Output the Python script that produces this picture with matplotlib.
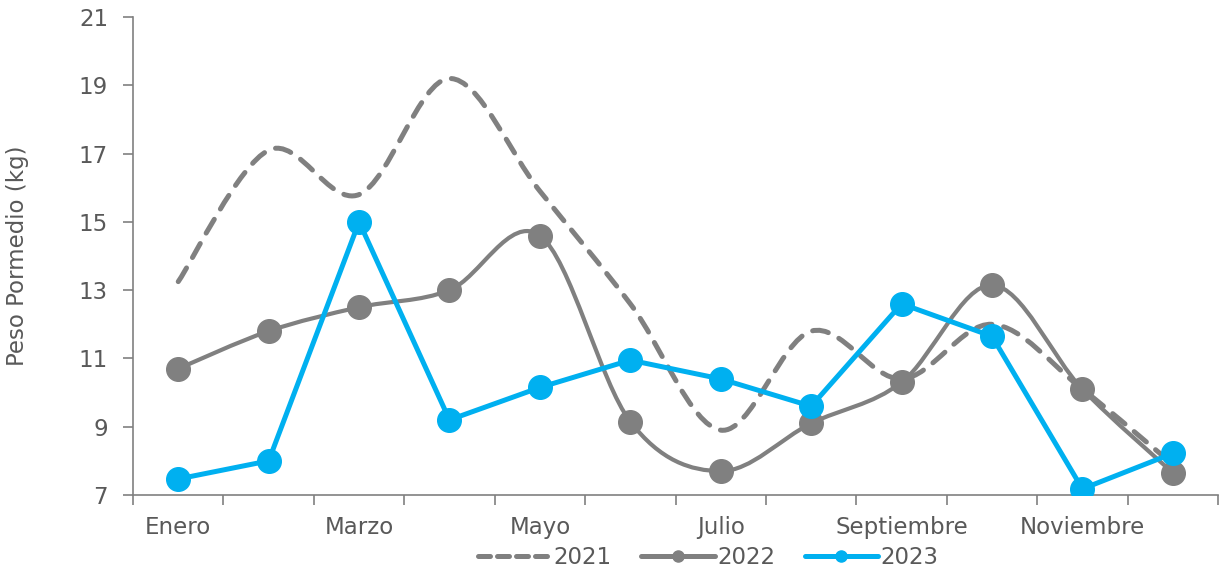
import numpy as np
import matplotlib
matplotlib.use("Agg")
import matplotlib.pyplot as plt
from matplotlib.path import Path
from matplotlib.patches import PathPatch
from matplotlib.lines import Line2D

months = ["Enero", "Febrero", "Marzo", "Abril", "Mayo", "Junio",
          "Julio", "Agosto", "Septiembre", "Octubre", "Noviembre", "Diciembre"]
y2021 = [13.25, 17.1, 15.8, 19.2, 15.9, 12.6, 8.9, 11.8, 10.4, 12.0, 10.1, 7.9]
y2022 = [10.7, 11.8, 12.5, 13.0, 14.6, 9.15, 7.7, 9.1, 10.3, 13.15, 10.1, 7.65]
y2023 = [7.47, 8.0, 15.0, 9.2, 10.15, 10.95, 10.4, 9.6, 12.6, 11.65, 7.18, 8.22]
y_ticks = [7, 9, 11, 13, 15, 17, 19, 21]

GRAY = "#808080"
BLUE = "#00B0F0"
TEXT = "#595959"
FS = 16.5

plt.rcParams["font.family"] = ["DejaVu Sans"]


def smooth_path(xs, ys):
    # excel-like smoothed line: cubic bezier through the points
    pts = np.column_stack([xs, ys]).astype(float)
    n = len(pts)
    verts = [pts[0]]
    codes = [Path.MOVETO]
    for i in range(n - 1):
        p_prev = pts[max(i - 1, 0)]
        p0 = pts[i]
        p1 = pts[i + 1]
        p_next = pts[min(i + 2, n - 1)]
        c1 = p0 + (p1 - p_prev) / 6.0
        c2 = p1 - (p_next - p0) / 6.0
        verts += [c1, c2, p1]
        codes += [Path.CURVE4] * 3
    return Path(verts, codes)


fig = plt.figure(figsize=(12.25, 5.75), dpi=100)
ax = fig.add_axes([0.1086, 0.1391, 0.8857, 0.8313])
x = np.arange(len(months))

p21 = PathPatch(smooth_path(x, y2021), fill=False, edgecolor=GRAY, lw=3.6,
                linestyle=(0, (3.2, 2.4)), capstyle="round", zorder=2)
ax.add_patch(p21)
p22 = PathPatch(smooth_path(x, y2022), fill=False, edgecolor=GRAY, lw=3.0, zorder=3)
ax.add_patch(p22)
ax.plot(x, y2022, linestyle="none", marker="o", ms=17, color=GRAY, zorder=4)
ax.plot(x, y2023, color=BLUE, lw=3.6, marker="o", ms=17, zorder=5)

ax.set_xlim(-0.5, len(months) - 0.5)
ax.set_ylim(7, 21)
ax.set_yticks(y_ticks)
ax.set_xticks(np.arange(-0.5, len(months), 1.0))
ax.set_xticklabels([])
ax.set_xticks(x[::2], minor=True)
ax.set_xticklabels(months[::2], minor=True)
ax.tick_params(axis="x", which="minor", length=0, pad=15, labelsize=FS, labelcolor=TEXT)
ax.tick_params(axis="x", which="major", length=7, width=1.2, color=GRAY)
ax.tick_params(axis="y", length=7, width=1.2, color=GRAY, labelsize=FS, labelcolor=TEXT, pad=11)

for s in ["top", "right"]:
    ax.spines[s].set_visible(False)
for s in ["left", "bottom"]:
    ax.spines[s].set_color(GRAY)
    ax.spines[s].set_linewidth(1.2)

ax.set_ylabel("Peso Pormedio (kg)", fontsize=FS, color=TEXT, labelpad=36)

handles = [
    Line2D([], [], color=GRAY, lw=3.6, linestyle=(0, (2.4, 1.4)), dash_capstyle="round"),
    Line2D([], [], color=GRAY, lw=3.6, marker="o", ms=8, solid_capstyle="round"),
    Line2D([], [], color=BLUE, lw=3.6, marker="o", ms=8, solid_capstyle="round"),
]
fig.legend(handles, ["2021", "2022", "2023"], loc="center", bbox_to_anchor=(0.578, 0.031),
           ncol=3, frameon=False, fontsize=FS, labelcolor=TEXT, handlelength=3.2,
           handletextpad=0.1, columnspacing=1.3)

fig.savefig("out.png", dpi=100)
